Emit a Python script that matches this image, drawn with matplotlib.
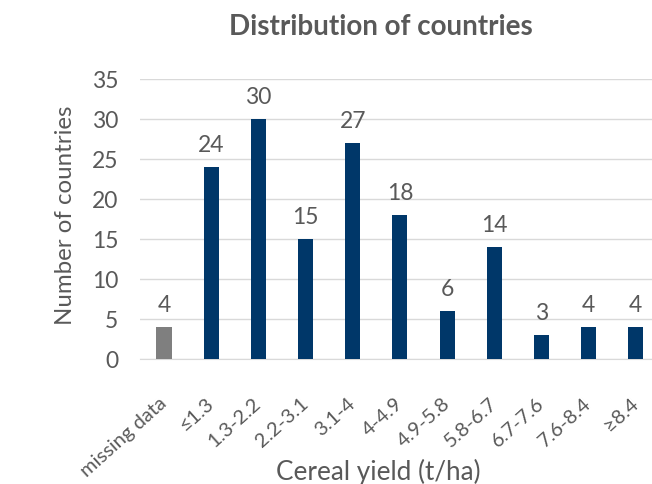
import matplotlib
matplotlib.use("Agg")
import matplotlib.pyplot as plt

categories = ["missing data", "≤1.3", "1.3-2.2", "2.2-3.1", "3.1-4", "4-4.9",
              "4.9-5.8", "5.8-6.7", "6.7-7.6", "7.6-8.4", "≥8.4"]
counts = [4, 24, 30, 15, 27, 18, 6, 14, 3, 4, 4]
colors = ["#7f7f7f"] + ["#003769"] * 10
yticks = [0, 5, 10, 15, 20, 25, 30, 35]

plt.rcParams['font.family'] = ['Lato', 'DejaVu Sans']
txt = "#595959"

fig = plt.figure(figsize=(6.52, 4.84), dpi=100)
ax = fig.add_axes([140.4/652, 124.7/484, 519/652, 280.3/484])
x = list(range(len(categories)))
ax.bar(x, counts, width=0.32, color=colors, zorder=3)
for xi, v in zip(x, counts):
    ax.text(xi, v + 1.4, str(v), ha="center", va="bottom", fontsize=16.5, color=txt)

ax.set_xlim(-0.5, len(categories) - 0.5)
ax.set_ylim(0, 35)
ax.set_yticks(yticks)
ax.set_yticklabels([str(t) for t in yticks], fontsize=16.5, color=txt)
ax.set_xticks(x)
ax.set_xticklabels(categories, rotation=42, ha="right", va="center",
                   rotation_mode="anchor", fontsize=14.5, color=txt)
ax.tick_params(axis="y", length=0, pad=16)
ax.tick_params(axis="x", length=0, pad=30)
ax.grid(axis="y", color="#d9d9d9", linewidth=1, zorder=0)
for s in ["top", "right", "left"]:
    ax.spines[s].set_visible(False)
ax.spines["bottom"].set_color("#d9d9d9")
fig.text(66/652, 1 - 215/484, "Number of countries", rotation=90, ha="center",
         va="center", fontsize=17.3, color=txt)
fig.text(378/652, 1 - 472/484, "Cereal yield (t/ha)", ha="center", va="center",
         fontsize=18.8, color=txt)
fig.text(381/652, 1 - 27/484, "Distribution of countries", ha="center", va="center",
         fontsize=20, fontweight="bold", color=txt)
fig.savefig("out.png", dpi=100)
